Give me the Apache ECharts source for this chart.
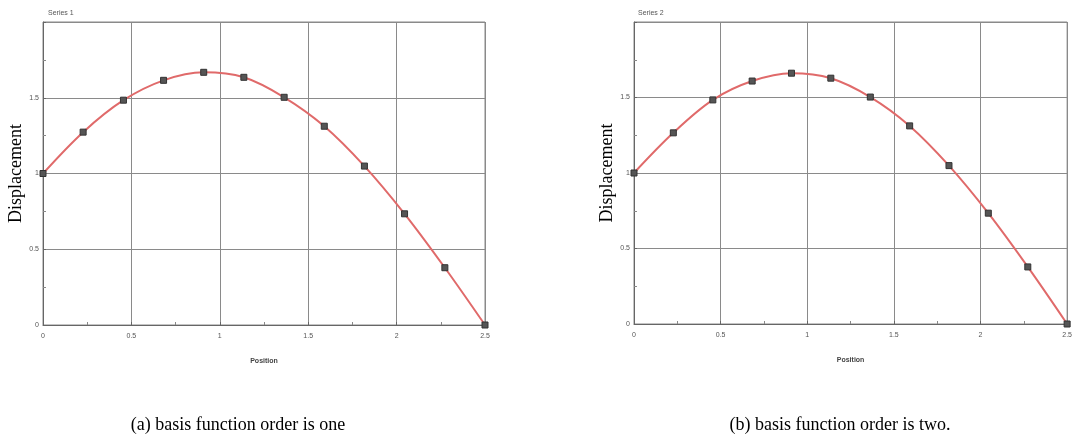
<!DOCTYPE html>
<html>
<head>
<meta charset="utf-8">
<script src="https://cdn.jsdelivr.net/npm/echarts@6/dist/echarts.min.js"></script>
<style>
  html, body { margin: 0; padding: 0; background: #fff; }
  #chart { width: 1075px; height: 435px; }
</style>
</head>
<body>
<div id="chart"></div>
<script>
// position of the nodes along the bar
var positions = [0, 0.227, 0.455, 0.682, 0.909, 1.136, 1.364, 1.591, 1.818, 2.045, 2.273, 2.5];
// displacement, basis function order one
var dispOrderOne = [1.0, 1.273, 1.484, 1.615, 1.668, 1.635, 1.503, 1.312, 1.049, 0.734, 0.378, 0];
// displacement, basis function order two
var dispOrderTwo = [1.0, 1.266, 1.484, 1.609, 1.661, 1.628, 1.503, 1.312, 1.049, 0.734, 0.378, 0];

var seriesNames = ['Series 1', 'Series 2'];
var captions = ['(a) basis function order is one', '(b) basis function order is two.'];

function pairs(xs, ys) {
    var out = [];
    for (var i = 0; i < xs.length; i++) {
        out.push([xs[i], ys[i]]);
    }
    return out;
}

var myChart = echarts.init(document.getElementById('chart'));

var gridLine = { show: true, lineStyle: { color: '#8a8a8a', width: 1 } };
var tickLabel = { fontSize: 7, color: '#555', fontFamily: 'Arial' };

function makeX(idx) {
    return {
        gridIndex: idx,
        type: 'value',
        min: 0, max: 2.5, interval: 0.5,
        name: 'Position',
        nameLocation: 'middle',
        nameGap: 33,
        nameTextStyle: { fontSize: 7, fontWeight: 'bold', color: '#444', fontFamily: 'Arial' },
        axisLine: { show: true, onZero: false, lineStyle: { color: '#666' } },
        axisTick: { show: true, inside: true, length: 3, lineStyle: { color: '#666' } },
        minorTick: { show: true, splitNumber: 2, length: 3, lineStyle: { color: '#888' } },
        axisLabel: tickLabel,
        splitLine: gridLine
    };
}

function makeY(idx) {
    return {
        gridIndex: idx,
        type: 'value',
        min: 0, max: 2, interval: 0.5,
        name: 'Displacement',
        nameLocation: 'middle',
        nameRotate: 90,
        nameGap: 18,
        nameTextStyle: { fontSize: 18, color: '#000', fontFamily: 'Liberation Serif' },
        axisLine: { show: true, onZero: false, lineStyle: { color: '#666' } },
        axisTick: { show: true, inside: true, length: 3, lineStyle: { color: '#666' } },
        minorTick: { show: true, splitNumber: 2, length: 3, lineStyle: { color: '#888' } },
        axisLabel: { fontSize: 7, color: '#555', fontFamily: 'Arial', margin: 4, showMaxLabel: false },
        splitLine: gridLine
    };
}

function makeSeries(idx, ys) {
    return {
        name: seriesNames[idx],
        type: 'line',
        xAxisIndex: idx,
        yAxisIndex: idx,
        data: pairs(positions, ys),
        smooth: 0.35,
        symbol: 'rect',
        symbolSize: 6,
        lineStyle: { color: '#e06a6a', width: 2 },
        itemStyle: { color: '#555', borderColor: '#333', borderWidth: 1 }
    };
}

var option = {
    animation: false,
    title: [
        { text: seriesNames[0], left: 43, top: 5, textStyle: { fontSize: 7, fontWeight: 'normal', color: '#555', fontFamily: 'Arial' } },
        { text: seriesNames[1], left: 633, top: 5, textStyle: { fontSize: 7, fontWeight: 'normal', color: '#555', fontFamily: 'Arial' } },
        { text: captions[0], left: 233, top: 411, textAlign: 'center', textStyle: { fontSize: 18, fontWeight: 'normal', color: '#000', fontFamily: 'Liberation Serif' } },
        { text: captions[1], left: 835, top: 411, textAlign: 'center', textStyle: { fontSize: 18, fontWeight: 'normal', color: '#000', fontFamily: 'Liberation Serif' } }
    ],
    grid: [
        { left: 43, top: 22, width: 442, height: 303, show: true, borderColor: '#888', borderWidth: 1 },
        { left: 634, top: 22, width: 439, height: 302, show: true, borderColor: '#888', borderWidth: 1 }
    ],
    xAxis: [makeX(0), makeX(1)],
    yAxis: [makeY(0), makeY(1)],
    series: [makeSeries(0, dispOrderOne), makeSeries(1, dispOrderTwo)]
};

myChart.setOption(option);
</script>
</body>
</html>
